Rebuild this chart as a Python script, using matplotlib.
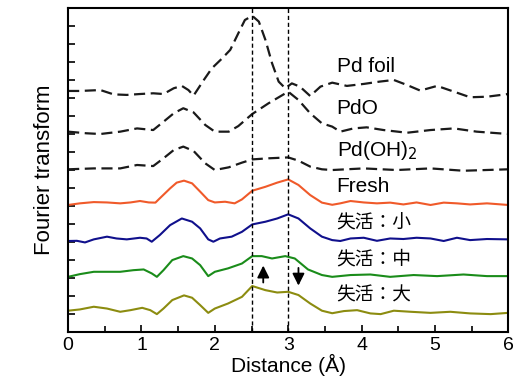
import numpy as np
import matplotlib
matplotlib.use("Agg")
import matplotlib.pyplot as plt

plt.rcParams['font.family'] = ['Liberation Sans', 'Noto Sans CJK JP', 'DejaVu Sans']

# Pd foil (dashed reference)
foil_x = [0.0, 0.16, 0.44, 0.62, 0.8, 0.98, 1.16, 1.3, 1.44, 1.55, 1.64, 1.71, 1.85, 1.96,
          2.1, 2.21, 2.32, 2.41, 2.51, 2.6, 2.69, 2.78, 2.87, 2.96, 3.05, 3.16, 3.3, 3.44,
          3.6, 3.8, 4.03, 4.25, 4.44, 4.62, 4.8, 5.03, 5.26, 5.48, 5.71, 6.0]
foil_y = [13.39, 13.39, 13.44, 13.2, 13.17, 13.22, 13.26, 13.22, 13.54, 13.67, 13.44, 13.13,
          14.0, 14.65, 15.2, 15.67, 16.59, 17.33, 17.56, 17.24, 16.22, 14.93, 13.91, 13.54,
          13.81, 13.63, 13.11, 13.63, 13.85, 13.67, 13.78, 13.91, 14.0, 13.72, 13.41, 13.67,
          13.35, 13.04, 13.07, 13.22]

# PdO
pdo_x = [0.0, 0.25, 0.44, 0.71, 0.94, 1.16, 1.3, 1.44, 1.57, 1.71, 1.87, 2.0, 2.19, 2.32,
         2.51, 2.73, 3.0, 3.14, 3.3, 3.46, 3.6, 3.71, 3.89, 4.07, 4.3, 4.62, 4.94, 5.26,
         5.57, 6.0]
pdo_y = [11.13, 11.04, 11.0, 11.13, 11.31, 11.22, 11.68, 12.15, 12.43, 12.2, 11.5, 11.13,
         11.13, 11.44, 12.11, 12.7, 13.35, 12.89, 12.15, 11.59, 11.41, 11.13, 11.31, 11.37,
         11.22, 11.07, 11.22, 11.31, 11.13, 11.0]

# Pd(OH)2
oh_x = [0.0, 0.35, 0.71, 0.94, 1.16, 1.3, 1.44, 1.57, 1.71, 1.87, 2.0, 2.19, 2.37, 2.51,
        2.73, 3.0, 3.14, 3.3, 3.46, 3.6, 4.03, 4.48, 4.94, 5.39, 6.0]
oh_y = [9.04, 9.09, 9.09, 9.28, 9.22, 9.65, 10.11, 10.3, 10.06, 9.37, 9.0, 9.15, 9.41, 9.59,
        9.65, 9.7, 9.52, 9.19, 9.04, 9.0, 9.09, 9.0, 9.09, 8.96, 9.04]

# Fresh
fresh_x = [0.0, 0.16, 0.35, 0.53, 0.71, 0.85, 0.98, 1.1, 1.19, 1.25, 1.39, 1.48, 1.58, 1.69,
           1.8, 1.91, 2.0, 2.14, 2.27, 2.37, 2.51, 2.69, 2.85, 3.0, 3.14, 3.3, 3.46, 3.6,
           3.71, 3.85, 4.03, 4.21, 4.39, 4.57, 4.75, 4.94, 5.12, 5.3, 5.48, 5.71, 6.0]
fresh_y = [7.06, 7.15, 7.22, 7.2, 7.15, 7.2, 7.28, 7.2, 7.19, 7.43, 7.98, 8.3, 8.41, 8.26,
           7.8, 7.33, 7.2, 7.24, 7.15, 7.37, 7.85, 8.07, 8.3, 8.48, 8.17, 7.61, 7.19, 7.07,
           7.15, 7.28, 7.2, 7.15, 7.19, 7.09, 7.2, 7.06, 7.19, 7.15, 7.09, 7.15, 7.06]

# 失活:小
small_x = [0.0, 0.12, 0.23, 0.35, 0.53, 0.66, 0.8, 0.98, 1.07, 1.14, 1.25, 1.39, 1.55, 1.69,
           1.8, 1.91, 1.98, 2.07, 2.23, 2.37, 2.51, 2.69, 2.85, 3.0, 3.14, 3.3, 3.46, 3.6,
           3.71, 3.85, 4.03, 4.21, 4.39, 4.57, 4.75, 4.94, 5.12, 5.3, 5.48, 5.71, 6.0]
small_y = [5.06, 5.07, 4.98, 5.15, 5.3, 5.2, 5.15, 5.24, 5.2, 5.02, 5.39, 5.94, 6.31, 6.13,
           5.76, 5.15, 5.02, 5.2, 5.3, 5.57, 5.98, 6.13, 6.31, 6.54, 6.31, 5.76, 5.3, 5.11,
           5.06, 5.2, 5.24, 5.07, 5.2, 5.17, 5.24, 5.2, 5.06, 5.24, 5.11, 5.17, 5.15]

# 失活:中
mid_x = [0.0, 0.16, 0.35, 0.53, 0.71, 0.89, 1.03, 1.14, 1.21, 1.3, 1.42, 1.57, 1.69, 1.8,
         1.91, 2.0, 2.18, 2.37, 2.51, 2.64, 2.78, 2.96, 3.09, 3.27, 3.46, 3.6, 3.85, 4.12,
         4.39, 4.71, 5.03, 5.39, 5.71, 6.0]
mid_y = [3.07, 3.22, 3.35, 3.35, 3.35, 3.44, 3.48, 3.26, 3.07, 3.44, 4.0, 4.22, 4.09, 3.72,
         3.11, 3.35, 3.54, 3.81, 4.22, 4.22, 4.09, 4.22, 4.09, 3.48, 3.17, 3.07, 3.17, 3.2,
         3.07, 3.17, 3.11, 3.2, 3.11, 3.11]

# 失活:大
large_x = [0.0, 0.16, 0.35, 0.53, 0.71, 0.85, 1.01, 1.12, 1.21, 1.3, 1.42, 1.58, 1.69, 1.8,
           1.91, 2.0, 2.18, 2.37, 2.51, 2.69, 2.85, 3.0, 3.14, 3.3, 3.46, 3.6, 3.76, 3.94,
           4.12, 4.26, 4.44, 4.67, 4.94, 5.21, 5.48, 5.76, 6.0]
large_y = [1.19, 1.26, 1.41, 1.31, 1.13, 1.22, 1.35, 1.22, 1.0, 1.31, 1.78, 2.04, 1.91, 1.5,
           1.07, 1.31, 1.59, 1.96, 2.56, 2.33, 2.2, 2.24, 2.06, 1.59, 1.19, 1.05, 1.17, 1.22,
           1.04, 1.0, 1.19, 1.13, 1.07, 1.13, 1.04, 1.0, 1.07]

labels = ["Pd foil", "PdO", "Pd(OH)$_2$", "Fresh", "失活：小", "失活：中", "失活：大"]
label_y = [14.74, 12.44, 10.11, 8.07, 6.04, 4.02, 2.0]
vlines = [2.5, 3.0]

fig = plt.figure(figsize=(5.16, 3.77), dpi=100)
ax = fig.add_axes([0.132, 0.119, 0.853, 0.86])

dash = (0, (5, 2.5))
for x, y in [(foil_x, foil_y), (pdo_x, pdo_y), (oh_x, oh_y)]:
    ax.plot(x, y, color='#1a1a1a', lw=1.6, linestyle=dash)

ax.plot(fresh_x, fresh_y, color='#f05a2a', lw=1.5)
ax.plot(small_x, small_y, color='#10108c', lw=1.5)
ax.plot(mid_x, mid_y, color='#1a8c1a', lw=1.5)
ax.plot(large_x, large_y, color='#8c8c10', lw=1.5)

for v in vlines:
    ax.axvline(v, color='black', lw=1.0, linestyle=(0, (3, 2)))

for lab, ly in zip(labels, label_y):
    fs = 13.5 if lab.startswith('失') else 15
    ax.text(3.66, ly, lab, fontsize=fs, va='center', ha='left')

ax.annotate('', xy=(2.66, 3.85), xytext=(2.66, 2.6),
            arrowprops=dict(arrowstyle='-|>', color='black', lw=1.3, mutation_scale=18))
ax.annotate('', xy=(3.14, 2.43), xytext=(3.14, 3.72),
            arrowprops=dict(arrowstyle='-|>', color='black', lw=1.3, mutation_scale=18))

ax.set_xlim(0, 6)
ax.set_ylim(0, 18)
ax.set_xticks(range(7))
ax.set_xticks(np.arange(0.5, 6, 1.0), minor=True)
ax.set_yticks(range(1, 18))
ax.set_yticklabels([])
ax.tick_params(direction='in', length=5, width=1.2, labelsize=14)
ax.tick_params(which='minor', direction='in', length=4, width=1.2)
ax.tick_params(axis='y', right=False)
for s in ax.spines.values():
    s.set_linewidth(1.5)

ax.set_xlabel('Distance (Å)', fontsize=15, labelpad=0)
ax.set_ylabel('Fourier transform', fontsize=16, labelpad=6)

fig.savefig('out.png', dpi=100)
